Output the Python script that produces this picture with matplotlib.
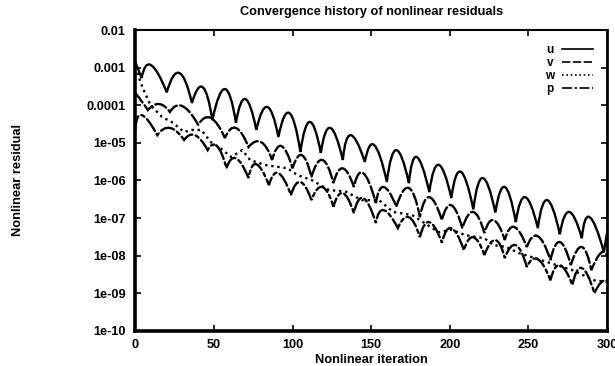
import numpy as np
import matplotlib.pyplot as plt
from matplotlib.path import Path
from matplotlib.patches import PathPatch
from matplotlib.lines import Line2D

plt.rcParams['font.family'] = ['Liberation Sans', 'DejaVu Sans']
plt.rcParams['font.weight'] = 'bold'

# Residual readings: alternating low (dip) and high (peak) points
u_iter = [0, 2, 4, 10, 20, 28, 36, 43, 49, 57, 64, 70, 77, 84, 91, 98, 105, 111,
          118, 124, 132, 137, 146, 152, 160, 166, 174, 179, 187, 193, 201, 207,
          215, 221, 229, 235, 242, 248, 256, 262, 270, 276, 284, 289, 298, 299, 300]
u_res = [1.41e-3, 8.6e-4, 5.3e-4, 1.17e-3, 2.2e-4, 7.2e-4, 1.15e-4, 3.0e-4, 4.0e-5,
         2.7e-4, 3.4e-5, 1.46e-4, 2.2e-5, 9.0e-5, 1.43e-5, 6.2e-5, 5.7e-6, 3.6e-5,
         5.4e-6, 2.5e-5, 3.5e-6, 1.6e-5, 3.1e-6, 8.7e-6, 9.1e-7, 6.4e-6, 8.5e-7,
         4.2e-6, 4.9e-7, 2.6e-6, 3.4e-7, 1.7e-6, 1.7e-7, 1.16e-6, 1.4e-7, 6.7e-7,
         7.8e-8, 3.6e-7, 5.4e-8, 3.0e-7, 3.7e-8, 1.45e-7, 2.9e-8, 1.06e-7, 1.25e-8,
         2.2e-8, 4.0e-8]

v_iter = [0, 4, 8, 15, 22, 30, 40, 48, 57, 64, 72, 80, 87, 93, 100, 106, 112, 119,
          126, 132, 139, 145, 153, 158, 166, 174, 181, 187, 195, 201, 208, 215, 222,
          228, 235, 241, 249, 256, 264, 270, 277, 284, 290, 296, 300]
v_res = [2.1e-4, 1.29e-4, 7.4e-5, 1.08e-4, 6.6e-5, 9.5e-5, 3.0e-5, 4.6e-5, 1.34e-5,
         2.5e-5, 7.7e-6, 1.05e-5, 3.5e-6, 8.2e-6, 2.1e-6, 4.7e-6, 1.23e-6, 3.5e-6,
         8.5e-7, 2.1e-6, 6.7e-7, 1.57e-6, 2.5e-7, 6.7e-7, 2.0e-7, 6.3e-7, 1.06e-7,
         3.6e-7, 8.8e-8, 2.2e-7, 5.4e-8, 1.45e-7, 4.0e-8, 8.8e-8, 2.6e-8, 5.8e-8,
         1.7e-8, 3.3e-8, 7.6e-9, 2.3e-8, 5.6e-9, 1.7e-8, 4.1e-9, 1.17e-8, 9.8e-9]

w_iter = [0, 4.5, 9.6, 17, 24, 31, 36, 42, 48, 54, 61, 68, 73, 82, 97, 103, 112, 123,
          134, 144, 155, 164, 176, 193, 201, 210, 222, 228, 236, 244, 252, 278, 292, 300]
w_res = [1.04e-3, 3.05e-4, 1.01e-4, 4.9e-5, 3.4e-5, 1.94e-5, 2.2e-5, 2.2e-5, 1.05e-5,
         7.3e-6, 4.2e-6, 6.4e-6, 3.5e-6, 2.6e-6, 2.1e-6, 1.39e-6, 1.03e-6, 5.6e-7,
         5.0e-7, 3.0e-7, 3.0e-7, 1.45e-7, 1.2e-7, 4.2e-8, 4.9e-8, 3.5e-8, 2.9e-8,
         1.9e-8, 1.7e-8, 1.17e-8, 9.2e-9, 4.1e-9, 2.2e-9, 2.0e-9]

p_iter = [0, 4, 14, 22, 31, 38, 46, 52, 58, 64, 72, 77, 85, 91, 99, 105, 112, 119,
          126, 132, 139, 145, 153, 158, 167, 174, 181, 187, 195, 201, 209, 215, 222,
          229, 235, 242, 249, 256, 264, 270, 278, 284, 292, 296, 300]
p_res = [2.2e-5, 5.5e-5, 1.6e-5, 2.5e-5, 1.19e-5, 1.6e-5, 6.4e-6, 8.2e-6, 2.1e-6,
         3.9e-6, 1.16e-6, 2.7e-6, 7.5e-7, 1.57e-6, 4.1e-7, 9.1e-7, 3.0e-7, 6.7e-7,
         2.0e-7, 4.6e-7, 1.36e-7, 3.4e-7, 7.4e-8, 1.63e-7, 5.4e-8, 1.06e-7, 3.1e-8,
         7.8e-8, 2.2e-8, 5.4e-8, 1.4e-8, 3.1e-8, 1.04e-8, 2.6e-8, 8.6e-9, 1.9e-8,
         5.0e-9, 8.1e-9, 2.2e-9, 5.6e-9, 1.65e-9, 4.7e-9, 1.0e-9, 1.9e-9, 2.2e-9]

labels = ['u', 'v', 'w', 'p']
styles = ['-', (0, (5, 1.5)), (0, (1, 1.6)), (0, (6, 1.5, 1.5, 1.5))]

ytick_vals = [1e-10, 1e-9, 1e-8, 1e-7, 1e-6, 1e-5, 1e-4, 1e-3, 1e-2]
ytick_labels = ['1e-10', '1e-09', '1e-08', '1e-07', '1e-06', '1e-05',
                '0.0001', '0.001', '0.01']
xtick_vals = [0, 50, 100, 150, 200, 250, 300]


def arch_path(x, y):
    """Arches between dips: each peak reading is a point the curve passes through."""
    verts = [(x[0], y[0])]
    codes = [Path.MOVETO]
    i = 0
    while i + 2 < len(x):
        cx = 2 * x[i + 1] - 0.5 * (x[i] + x[i + 2])
        ly = 2 * np.log10(y[i + 1]) - 0.5 * (np.log10(y[i]) + np.log10(y[i + 2]))
        verts += [(cx, 10 ** ly), (x[i + 2], y[i + 2])]
        codes += [Path.CURVE3, Path.CURVE3]
        i += 2
    if i + 1 < len(x):
        verts.append((x[i + 1], y[i + 1]))
        codes.append(Path.LINETO)
    return Path(verts, codes)


fig, ax = plt.subplots(figsize=(6.15, 3.66), dpi=100)
fig.subplots_adjust(left=0.22, right=0.987, bottom=0.096, top=0.918)

ax.set_yscale('log')
ax.set_xlim(0, 300)
ax.set_ylim(1e-10, 1e-2)

for xs, ys, ls in [(u_iter, u_res, styles[0]), (v_iter, v_res, styles[1]),
                   (p_iter, p_res, styles[3])]:
    ax.add_patch(PathPatch(arch_path(xs, ys), fill=False, edgecolor='black',
                           lw=1.7, linestyle=ls, capstyle='round'))
ax.plot(w_iter, w_res, color='black', lw=1.7, linestyle=styles[2])

ax.set_yticks(ytick_vals)
ax.set_yticklabels(ytick_labels)
ax.minorticks_off()
ax.set_xticks(xtick_vals)
ax.tick_params(direction='in', length=4, width=1.2, top=True, right=True,
               labelsize=9.2)
ax.tick_params(axis='y', pad=7)
ax.tick_params(axis='x', pad=6)

for side, w in [('left', 2.6), ('bottom', 2.6), ('top', 1.5), ('right', 2.0)]:
    ax.spines[side].set_linewidth(w)

ax.set_title('Convergence history of nonlinear residuals', fontsize=9.2,
             fontweight='bold', pad=11)
ax.set_xlabel('Nonlinear iteration', fontsize=9.2, fontweight='bold', labelpad=2)
ax.set_ylabel('Nonlinear residual', fontsize=9.3, fontweight='bold')
ax.yaxis.set_label_coords(-0.237, 0.5)

handles = [Line2D([], [], color='black', lw=1.2, linestyle=s) for s in styles]
ax.legend(handles, labels, loc='upper right', frameon=False, markerfirst=False,
          fontsize=8.5, handlelength=2.6, labelspacing=0.08, borderaxespad=0.8,
          handletextpad=0.7)

plt.savefig('out.png', dpi=100)
